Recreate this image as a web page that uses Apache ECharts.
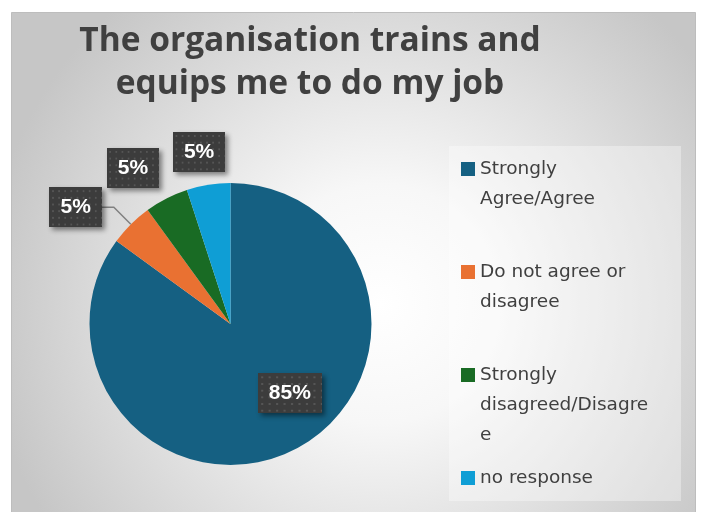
<!DOCTYPE html>
<html>
<head>
<meta charset="utf-8">
<script src="https://cdn.jsdelivr.net/npm/echarts@6/dist/echarts.min.js"></script>
<style>
  html, body { margin: 0; padding: 0; background: #ffffff; }
  #chart { width: 703px; height: 512px; }
</style>
</head>
<body>
<div id="chart"></div>
<script>
// Survey question and answer groups
const titleText = 'The organisation trains and\nequips me to do my job';
const categories = ['Strongly Agree/Agree', 'Do not agree or disagree', 'Strongly disagreed/Disagree', 'no response'];
const shares = [85, 5, 5, 5];
const legendLines = ['Strongly\nAgree/Agree', 'Do not agree or\ndisagree', 'Strongly\ndisagreed/Disagre\ne', 'no response'];
const sliceColors = ['#156082', '#E97132', '#196B24', '#0F9ED5'];

// Dotted dark texture for the value boxes
function makeTexture() {
  const c = document.createElement('canvas');
  c.width = 60; c.height = 42;
  const g = c.getContext('2d');
  g.fillStyle = '#3c3c3c';
  g.fillRect(0, 0, c.width, c.height);
  g.fillStyle = '#555555';
  for (let y = 3; y < c.height; y += 7) {
    for (let x = 3; x < c.width; x += 7) {
      g.fillRect(x, y, 2, 2);
    }
  }
  return c;
}
const texture = makeTexture();

// label line geometry per slice: [length, length2, showLine]
const labelLineSpec = [[10, 0, false], [24, 12, true], [34, 0, false], [33, 0, false]];
const labelPosition = ['inside', 'outside', 'outside', 'outside'];
const labelNudge = [[26, 4], [0, 0], [8, 0], [22, 0]];

// Legend entries are padded with blank lines into equal 5-line blocks,
// so the first text line of each entry sits level with its swatch.
const LEGEND_LINE_H = 30;
const LEGEND_BLOCK_LINES = 5;
function legendBlock(text) {
  const n = text.split('\n').length;
  const above = (LEGEND_BLOCK_LINES - 1) / 2;
  const below = LEGEND_BLOCK_LINES - above - n;
  return '\n'.repeat(above) + text + '\n'.repeat(Math.max(0, below));
}

const chart = echarts.init(document.getElementById('chart'), null, { renderer: 'canvas' });

const option = {
  animation: false,
  color: sliceColors,
  graphic: [
    {
      type: 'rect', z: -10, silent: true,
      shape: { x: 11.5, y: 12.5, width: 684, height: 530 },
      style: {
        fill: new echarts.graphic.RadialGradient(0.54, 0.55, 0.75, [
          { offset: 0, color: '#ffffff' },
          { offset: 0.3, color: '#f7f7f7' },
          { offset: 1, color: '#c6c6c6' }
        ]),
        stroke: '#bdbdbd', lineWidth: 1
      }
    },
    {
      type: 'rect', z: -5, silent: true,
      shape: { x: 449, y: 146, width: 232, height: 355 },
      style: { fill: 'rgba(255,255,255,0.35)' }
    }
  ],
  title: {
    text: titleText,
    left: 310,
    top: 20,
    padding: 0,
    textAlign: 'center',
    textStyle: {
      fontFamily: '"Open Sans", "Noto Sans", sans-serif',
      fontWeight: 'bold',
      fontSize: 33.5,
      lineHeight: 43,
      color: '#404040'
    }
  },
  legend: {
    orient: 'vertical',
    left: 461,
    top: 169 - LEGEND_LINE_H * LEGEND_BLOCK_LINES / 2,
    height: 480,
    padding: 0,
    itemGap: 103 - LEGEND_LINE_H * LEGEND_BLOCK_LINES,
    itemWidth: 14,
    itemHeight: 14,
    icon: 'rect',
    selectedMode: false,
    data: categories,
    formatter: name => legendBlock(legendLines[categories.indexOf(name)]),
    textStyle: {
      fontFamily: '"DejaVu Sans", sans-serif',
      fontSize: 18.5,
      lineHeight: LEGEND_LINE_H,
      color: '#404040'
    }
  },
  series: [{
    type: 'pie',
    center: [230.5, 324],
    radius: 141,
    startAngle: 90,
    clockwise: true,
    avoidLabelOverlap: false,
    silent: true,
    itemStyle: { borderWidth: 0 },
    label: {
      show: true,
      formatter: p => p.value + '%',
      color: '#ffffff',
      fontFamily: '"Liberation Sans", Arial, sans-serif',
      fontWeight: 'bold',
      fontSize: 21,
      padding: [10, 11, 9, 11],
      backgroundColor: { image: texture },
      shadowColor: 'rgba(0,0,0,0.45)',
      shadowBlur: 5,
      shadowOffsetX: 3,
      shadowOffsetY: 3,
      distanceToLabelLine: 0
    },
    labelLine: {
      lineStyle: { color: '#808080', width: 1.5 }
    },
    labelLayout: p => ({ dx: labelNudge[p.dataIndex][0], dy: labelNudge[p.dataIndex][1] }),
    data: categories.map((name, i) => ({
      name: name,
      value: shares[i],
      label: { position: labelPosition[i] },
      labelLine: {
        show: labelLineSpec[i][2],
        length: labelLineSpec[i][0],
        length2: labelLineSpec[i][1]
      }
    }))
  }]
};

chart.setOption(option);
</script>
</body>
</html>
